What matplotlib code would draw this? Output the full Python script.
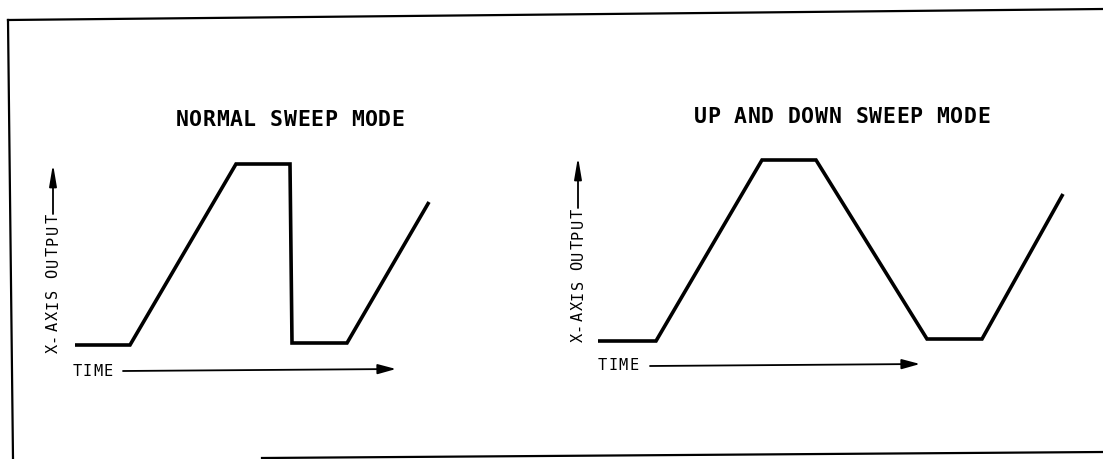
"""
sweep mode diagram: normal vs up-and-down sweep
"""
import matplotlib.pyplot as plt

W, H = 1103, 459  # canvas in pixels, axes uses the same units

# waveform corners (time, x-axis output) -- pixel units of the canvas
normal_time = [75, 130, 236, 290, 292, 347, 429]
normal_out = [345, 345, 164, 164, 343, 343, 202]

updown_time = [598, 656, 762, 816, 927, 982, 1063]
updown_out = [341, 341, 160, 160, 339, 339, 194]

titles = ['NORMAL SWEEP MODE', 'UP AND DOWN SWEEP MODE']
y_label = 'X-AXIS OUTPUT'
x_label = 'TIME'

# where each panel's text and arrows sit
title_pos = [(182, 120), (700, 117)]
ylab_pos = [(53, 348, 11.0), (578, 337, 10.5)]  # x, first char y, pitch
yarrow = [((53, 214), (53, 164)), ((578, 208), (578, 157))]
xlab_pos = [(77, 371, 10.3), (602, 366, 10.7)]
xarrow = [((123, 371), (396, 369)), ((650, 366), (920, 364))]

MONO = 'DejaVu Sans Mono'


def lettering(ax, x, y, text, size, pitch, gap=2.0, vertical=False, **kw):
    """draw text one letter at a time, like stencil lettering (fixed pitch)"""
    pos = 0.0
    for ch in text:
        if ch == ' ':
            pos += pitch * (gap - 1)
            continue
        if vertical:
            ax.text(x, y - pos, ch, rotation=90, ha='center', va='center',
                    fontsize=size, family=MONO, **kw)
        else:
            ax.text(x + pos, y, ch, ha='center', va='center',
                    fontsize=size, family=MONO, **kw)
        pos += pitch


def arrow(ax, start, tip, hl=1.1, hw=0.28):
    ax.annotate('', xy=tip, xytext=start,
                arrowprops=dict(arrowstyle=f'-|>,head_length={hl},head_width={hw}',
                                lw=1.3, color='black', shrinkA=0, shrinkB=0,
                                mutation_scale=10))


fig = plt.figure(figsize=(W / 100, H / 100), dpi=100)
ax = fig.add_axes([0, 0, 1, 1])
ax.set_xlim(0, W)
ax.set_ylim(H, 0)  # y grows downward like the scan
ax.axis('off')

# outer frame (only the parts visible in the scan)
ax.plot([8, 1103], [20, 9], color='black', lw=1.6)
ax.plot([8, 13], [20, 459], color='black', lw=1.6)
ax.plot([262, 1103], [458, 452], color='black', lw=1.6)

# waveforms
for t, v in [(normal_time, normal_out), (updown_time, updown_out)]:
    ax.plot(t, v, color='black', lw=2.6, solid_joinstyle='miter',
            solid_capstyle='butt')

for i in range(2):
    tx, ty = title_pos[i]
    lettering(ax, tx, ty, titles[i], 15.5, 13.5, gap=2.0, weight='bold')

    yx, yy, yp = ylab_pos[i]
    lettering(ax, yx, yy, y_label, 11, yp, gap=1.8, vertical=True)
    arrow(ax, *yarrow[i], hl=1.3, hw=0.22)

    xx, xy, xp = xlab_pos[i]
    lettering(ax, xx, xy, x_label, 11, xp)
    arrow(ax, *xarrow[i], hl=1.1, hw=0.3)

fig.savefig('out.png', dpi=100)
